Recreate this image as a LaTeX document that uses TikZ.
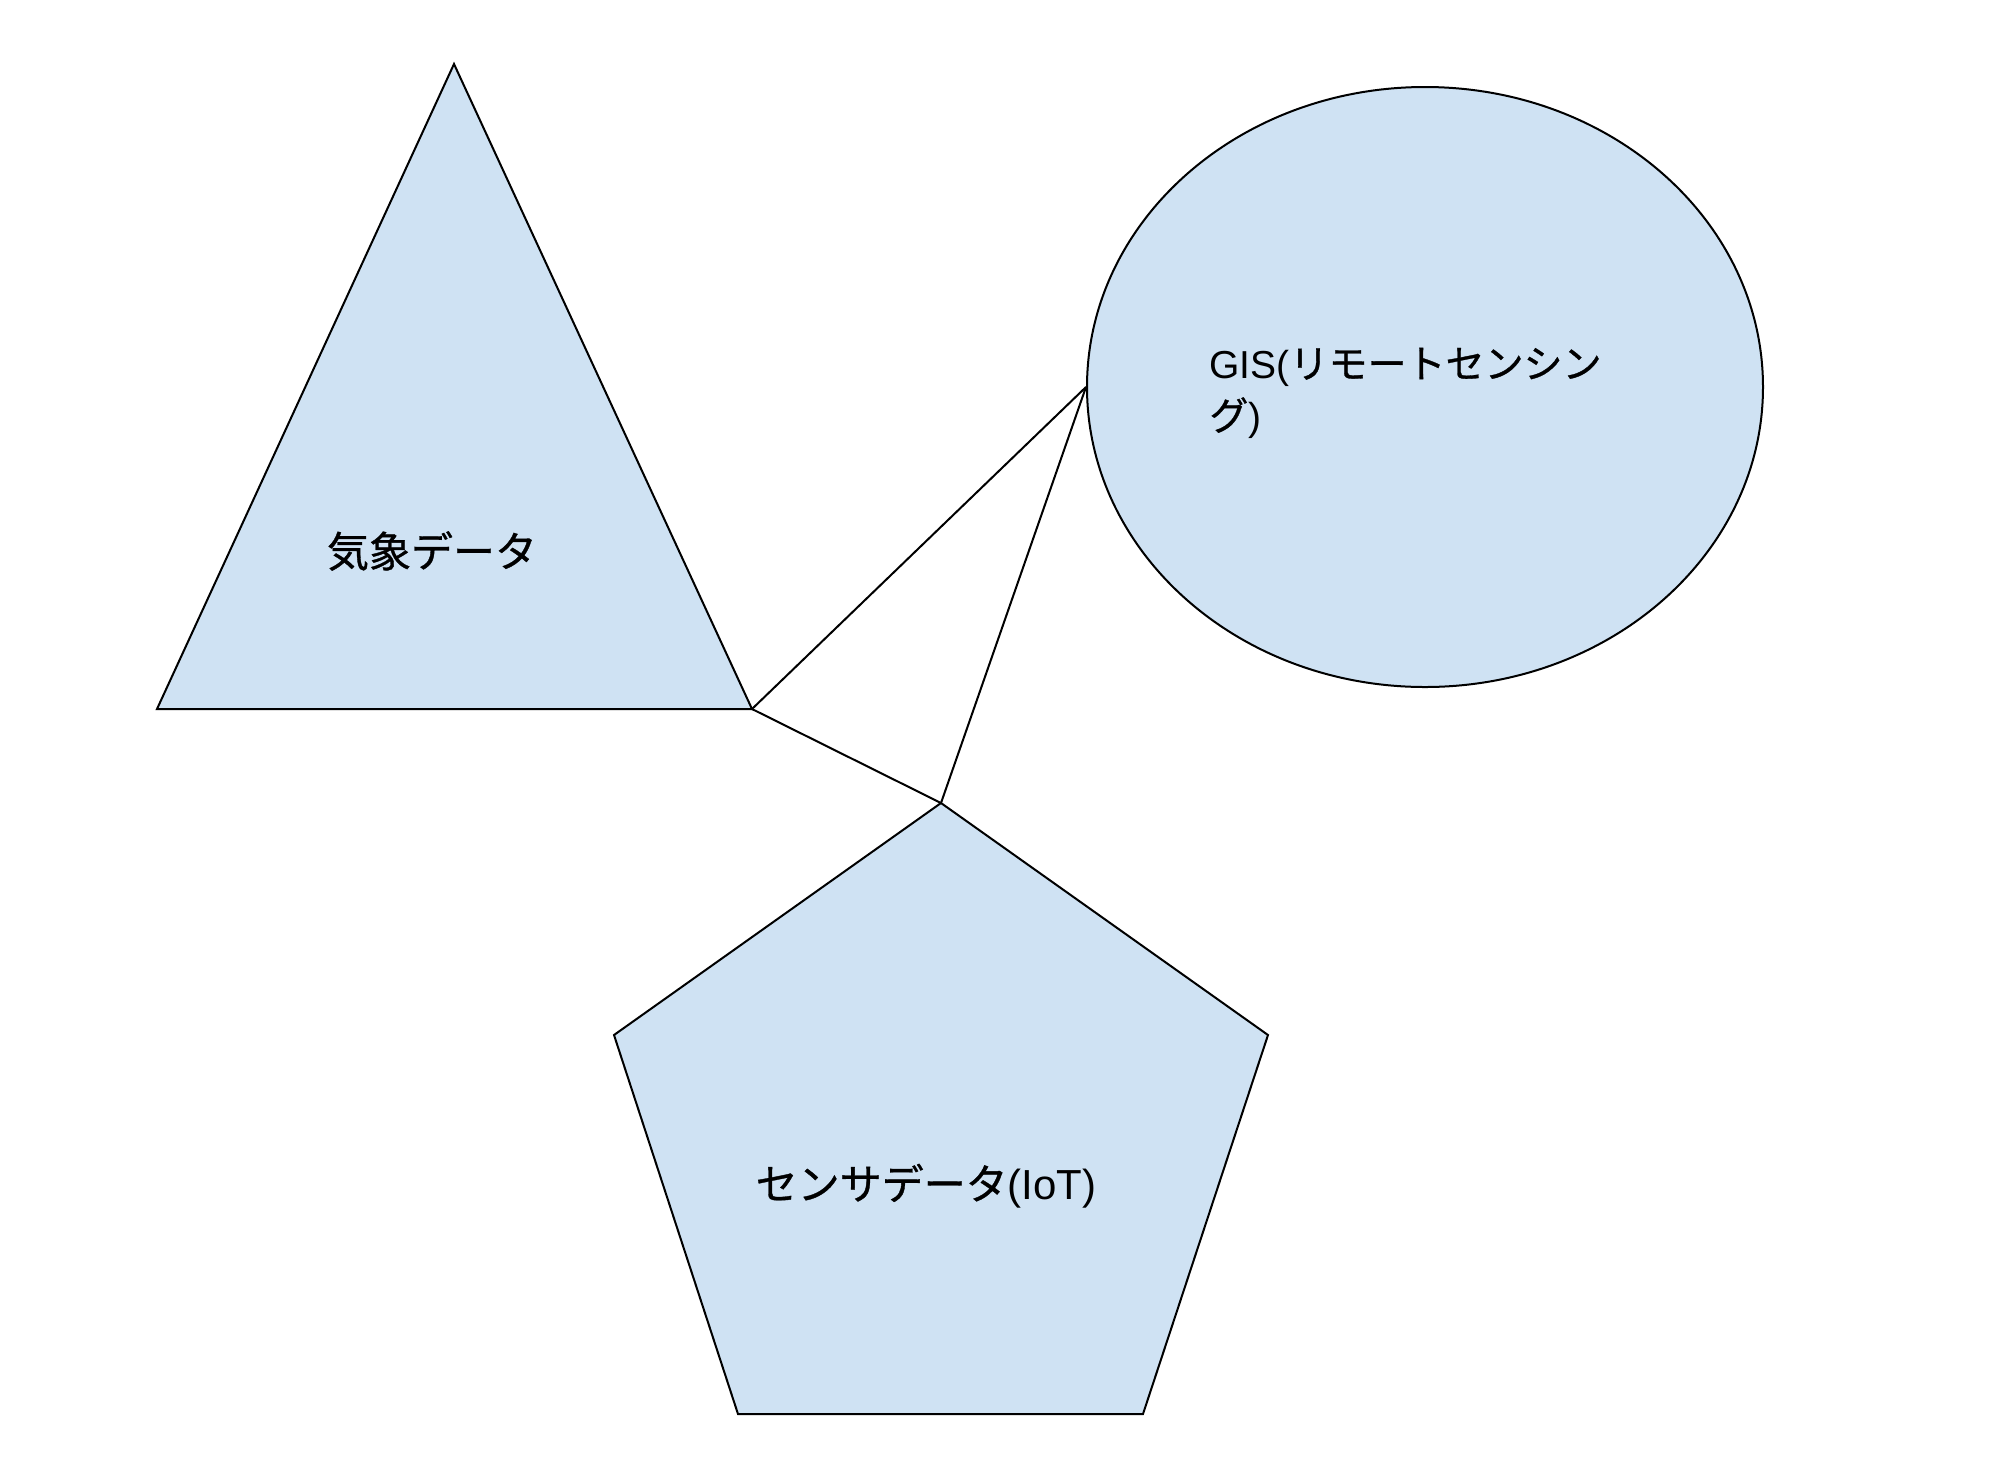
\documentclass[tikz,border=0pt]{standalone}
\usepackage{fontspec}
\setmainfont{Liberation Sans}
\newfontfamily\jp[FakeBold=0.8]{Noto Sans CJK JP}
\usetikzlibrary{shapes.geometric}
\definecolor{shapeblue}{RGB}{207, 226, 243}

\begin{document}
\begin{tikzpicture}[x=0.5pt, y=-0.5pt,
  shapetext/.style={font=\fontsize{21pt}{25pt}\selectfont, inner sep=0pt},
  outline/.style={draw=black, fill=shapeblue, line width=1pt, line join=miter}]
  \useasboundingbox (0,0) rectangle (2010,1480);

  % Weather data (triangle)
  \coordinate (tri-top) at (454,64);
  \coordinate (tri-bl) at (157,709);
  \coordinate (tri-br) at (752,709);
  \draw[outline] (tri-top) -- (tri-br) -- (tri-bl) -- cycle;
  \node[shapetext] (weather) at (432,551) {\jp 気象データ};

  % GIS (ellipse)
  \node[outline, ellipse, minimum width=338pt, minimum height=300pt, inner sep=0pt] (gis) at (1425,387) {};
  \node[shapetext, font=\fontsize{19.5pt}{26pt}\selectfont, anchor=west, align=left] (gis-text) at (1209,393) {GIS({\jp リモートセンシン}\\{\jp グ})};

  % Sensor data (pentagon)
  \coordinate (pent-top) at (941,803);
  \coordinate (pent-r) at (1268,1035);
  \coordinate (pent-br) at (1143,1414);
  \coordinate (pent-bl) at (738,1414);
  \coordinate (pent-l) at (614,1035);
  \draw[outline] (pent-top) -- (pent-r) -- (pent-br) -- (pent-bl) -- (pent-l) -- cycle;
  \node[shapetext] (sensor) at (926,1186) {{\jp センサデータ}(IoT)};

  % Connectors
  \draw[line width=1pt] (tri-br) -- (gis.west);
  \draw[line width=1pt] (gis.west) -- (pent-top);
  \draw[line width=1pt] (tri-br) -- (pent-top);
\end{tikzpicture}
\end{document}
